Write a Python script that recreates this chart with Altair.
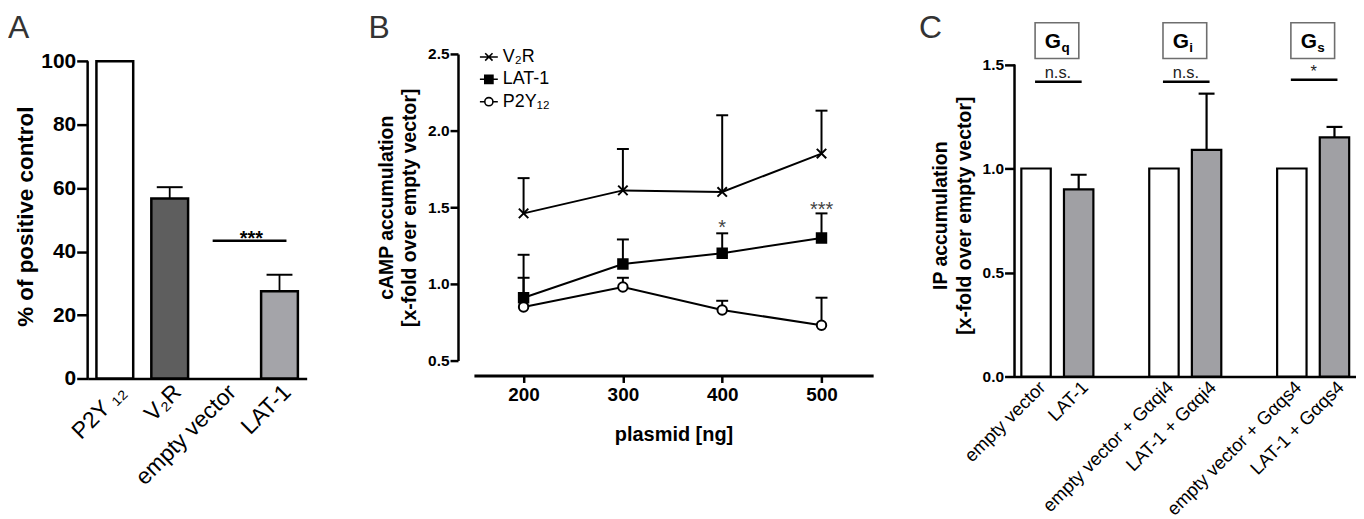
import altair as alt
import pandas as pd

FONT = "Liberation Sans"

# ---------------- Panel A data ----------------
a_cats = ["P2Y ₁₂", "V₂R", "empty vector", "LAT-1"]
a_vals = [100.0, 56.7, 0.0, 27.5]
a_errs = [None, 60.3, None, 32.7]
a_fill = ["#ffffff", "#5e5e5e", "#ffffff", "#a4a4a9"]
a_sig_from = ["empty vector"]
a_sig_to = ["LAT-1"]
a_sig_y = [43.4]
a_sig_text = ["***"]
a_axis_span = [0, 100]

# ---------------- Panel B data ----------------
b_plasmid = [200, 300, 400, 500]
b_series = ["V₂R", "LAT-1", "P2Y₁₂"]
b_v2r = [1.46, 1.61, 1.60, 1.85]
b_v2r_err = [1.69, 1.88, 2.10, 2.13]
b_lat = [0.91, 1.13, 1.20, 1.30]
b_lat_err = [1.19, 1.29, 1.33, 1.46]
b_p2y = [0.85, 0.98, 0.83, 0.73]
b_p2y_err = [1.04, 1.04, 0.89, 0.91]
b_star_x = [400, 500]
b_star_y = [1.325, 1.44]
b_star_text = ["*", "***"]

# ---------------- Panel C data ----------------
c_domain = ["empty vector", "LAT-1", " ",
            "empty vector + Gαqi4", "LAT-1 + Gαqi4", "  ",
            "empty vector + Gαqs4", "LAT-1 + Gαqs4"]
c_cats = ["empty vector", "LAT-1", "empty vector + Gαqi4", "LAT-1 + Gαqi4",
          "empty vector + Gαqs4", "LAT-1 + Gαqs4"]
c_vals = [1.0, 0.90, 1.0, 1.09, 1.0, 1.15]
c_errs = [None, 0.97, None, 1.36, None, 1.20]
c_fill = ["#ffffff", "#a0a0a4", "#ffffff", "#a0a0a4", "#ffffff", "#a0a0a4"]
c_sig_from = ["empty vector", "empty vector + Gαqi4", "empty vector + Gαqs4"]
c_sig_to = ["LAT-1", "LAT-1 + Gαqi4", "LAT-1 + Gαqs4"]
c_sig_y = [1.417, 1.417, 1.427]
c_sig_text = ["n.s.", "n.s.", "*"]
c_sig_text_y = [1.437, 1.437, 1.44]
c_box_sub = ["q", "i", "s"]
c_box_y = [1.615, 1.615, 1.615]
c_box_text_y = [1.581, 1.581, 1.581]
c_axis_span = [0, 1.5]


def letter(t, x, y):
    return alt.Chart(pd.DataFrame({"t": [t]})).mark_text(
        fontSize=32, font=FONT, color="#333333", align="left", baseline="alphabetic"
    ).encode(text="t:N", x=alt.value(x), y=alt.value(y))


def yline(span):
    return alt.Chart(pd.DataFrame({"a": [span[0]], "b": [span[1]]})).mark_rule(
        color="black", strokeWidth=2.5).encode(x=alt.value(0), y="a:Q", y2="b:Q")


# ================= Panel A =================
dfA = pd.DataFrame({"cat": a_cats, "val": a_vals, "err": a_errs, "fill": a_fill})
xA = alt.X("cat:N", scale=alt.Scale(domain=a_cats, paddingInner=0.33, paddingOuter=0.16),
           axis=alt.Axis(title=None, labelAngle=-45, labelAlign="right", labelBaseline="top",
                         ticks=False, labelFontSize=23, labelFontWeight="normal", labelLimit=0,
                         labelPadding=2, domainWidth=2.5, labelOverlap=False))
yA = alt.Y("val:Q", scale=alt.Scale(domain=[0, 102.3], nice=False),
           axis=alt.Axis(title="% of positive control", values=[0, 20, 40, 60, 80, 100],
                         tickSize=11, tickWidth=2.5, domain=False, labelFontSize=21,
                         labelFontWeight="bold", labelPadding=1, titleFontSize=22.5,
                         titleFontWeight="bold", titlePadding=3))
barsA = alt.Chart(dfA).transform_filter("datum.val > 0").mark_bar(
    stroke="black", strokeWidth=2.5).encode(x=xA, y=yA, fill=alt.Fill("fill:N", scale=None))
errA = alt.Chart(dfA).transform_filter("isValid(datum.err)").mark_rule(
    color="black", strokeWidth=1.8).encode(x="cat:N", y="val:Q", y2="err:Q")
capA = alt.Chart(dfA).transform_filter("isValid(datum.err)").mark_tick(
    color="black", size=26, thickness=2, opacity=1).encode(x="cat:N", y="err:Q")
dfAs = pd.DataFrame({"x1": a_sig_from, "x2": a_sig_to, "y": a_sig_y, "t": a_sig_text})
sigA = alt.Chart(dfAs).mark_rule(color="black", strokeWidth=2.5, xOffset=-12, x2Offset=7).encode(
    x="x1:N", x2="x2:N", y="y:Q")
starA = alt.Chart(dfAs).mark_text(fontSize=20, fontWeight="bold", font=FONT, dx=27, dy=4,
                                  baseline="alphabetic", color="black").encode(
    x="x1:N", y="y:Q", text="t:N")
chartA = alt.layer(barsA, errA, capA, sigA, starA, yline(a_axis_span),
                   letter("A", -80, -16)).properties(width=220, height=326)

# ================= Panel B =================
rows = []
for s, v, e in [("V₂R", b_v2r, b_v2r_err), ("LAT-1", b_lat, b_lat_err), ("P2Y₁₂", b_p2y, b_p2y_err)]:
    for x, vv, ee in zip(b_plasmid, v, e):
        rows.append({"x": x, "series": s, "val": vv, "err": ee})
dfB = pd.DataFrame(rows)

xB = alt.X("x:Q", scale=alt.Scale(domain=[150, 552], nice=False, zero=False),
           axis=alt.Axis(values=b_plasmid, format="d", offset=15, tickSize=7, tickWidth=2.5,
                         domainWidth=3, labelFontSize=19, labelFontWeight="bold", labelPadding=3,
                         title="plasmid [ng]", titleFontSize=20, titleFontWeight="bold",
                         titlePadding=20))
yB = alt.Y("val:Q", scale=alt.Scale(domain=[0.5, 2.5], nice=False, zero=False),
           axis=alt.Axis(values=[0.5, 1.0, 1.5, 2.0, 2.5], format=".1f", offset=16, tickSize=8,
                         tickWidth=2.5, domainWidth=2.5, labelFontSize=15.5,
                         labelFontWeight="bold", labelPadding=1,
                         title=["cAMP accumulation", "[x-fold over empty vector]"],
                         titleFontSize=19.5, titleFontWeight="bold", titlePadding=8,
                         titleLineHeight=23))

XPATH = "M-1,-1L1,1M-1,1L1,-1"
LX = "M-2.2,0L2.2,0M-0.9,-0.9L0.9,0.9M-0.9,0.9L0.9,-0.9"
LSQ = "M-2.2,0L2.2,0M-1,-1L1,-1L1,1L-1,1Z"
LC = "M-2.2,0L-1,0M1,0L2.2,0M1,0A1,1,0,1,1,-1,0A1,1,0,1,1,1,0Z"
fills = ["black", "black", "white"]

lineB = alt.Chart(dfB).mark_line(color="black", strokeWidth=2).encode(
    x=xB, y=yB, detail="series:N")
errB = alt.Chart(dfB).mark_rule(color="black", strokeWidth=2).encode(
    x="x:Q", y="val:Q", y2="err:Q")
capB = alt.Chart(dfB).mark_tick(orient="horizontal", color="black", size=12, thickness=2,
                                opacity=1).encode(x="x:Q", y="err:Q")
ptsB = alt.Chart(dfB).mark_point(stroke="black", strokeWidth=2, opacity=1, fillOpacity=1,
                                 size=90).encode(
    x="x:Q", y="val:Q",
    shape=alt.Shape("series:N", scale=alt.Scale(domain=b_series, range=[XPATH, "square", "circle"]),
                    legend=None),
    fill=alt.Fill("series:N", scale=alt.Scale(domain=b_series, range=fills), legend=None))
leg = alt.Legend(title=None, orient="none", legendX=6, legendY=-6, labelFontSize=18,
                 labelFont=FONT, labelColor="black", symbolSize=67, symbolStrokeWidth=1.6,
                 symbolStrokeColor="black", rowPadding=4.5, labelOffset=5, padding=0)
legB = alt.Chart(dfB).mark_point(clip=True, strokeWidth=1.6, opacity=1, fillOpacity=1,
                                 size=67).encode(
    x="x:Q", y=alt.value(-3000),
    shape=alt.Shape("series:N", scale=alt.Scale(domain=b_series, range=[LX, LSQ, LC]), legend=leg),
    fill=alt.Fill("series:N", scale=alt.Scale(domain=b_series, range=fills), legend=leg),
    stroke=alt.Stroke("series:N", scale=alt.Scale(domain=b_series, range=["black"] * 3),
                      legend=leg))
dfBs = pd.DataFrame({"x": b_star_x, "y": b_star_y, "t": b_star_text})
starB = alt.Chart(dfBs).mark_text(fontSize=20, font=FONT, color="#444444",
                                  baseline="alphabetic").encode(x="x:Q", y="y:Q", text="t:N")
chartB = alt.layer(lineB, errB, capB, ptsB, legB, starB, letter("B", -106, -16)).resolve_scale(
    shape="independent", fill="independent", stroke="independent").properties(
    width=401, height=308)

# ================= Panel C =================
dfC = pd.DataFrame({"cat": c_cats, "val": c_vals, "err": c_errs, "fill": c_fill})
xC = alt.X("cat:N", scale=alt.Scale(domain=c_domain, paddingInner=0.31, paddingOuter=0.16),
           axis=alt.Axis(title=None, labelAngle=-45, labelAlign="right", labelBaseline="top",
                         ticks=False, labelFontSize=18.5, labelFontWeight="normal", labelPadding=1,
                         labelLimit=0, domainWidth=2.5, labelOverlap=False))
yC = alt.Y("val:Q", scale=alt.Scale(domain=[0, 1.551], nice=False),
           axis=alt.Axis(values=[0, 0.5, 1.0, 1.5], format=".1f", tickSize=10, tickWidth=2.5,
                         domain=False, labelFontSize=15.5, labelFontWeight="bold", labelPadding=1,
                         title=["IP accumulation", "[x-fold over empty vector]"], titleFontSize=19.5,
                         titleFontWeight="bold", titlePadding=8, titleLineHeight=24))
barsC = alt.Chart(dfC).mark_bar(stroke="black", strokeWidth=2.2).encode(
    x=xC, y=yC, fill=alt.Fill("fill:N", scale=None))
errC = alt.Chart(dfC).transform_filter("isValid(datum.err)").mark_rule(
    color="black", strokeWidth=2.2).encode(x="cat:N", y="val:Q", y2="err:Q")
capC = alt.Chart(dfC).transform_filter("isValid(datum.err)").mark_tick(
    color="black", size=16, thickness=2.2, opacity=1).encode(x="cat:N", y="err:Q")
dfCs = pd.DataFrame({"x1": c_sig_from, "x2": c_sig_to, "y": c_sig_y, "t": c_sig_text,
                     "ty": c_sig_text_y, "sub": c_box_sub, "by": c_box_y, "gy": c_box_text_y})
sigC = alt.Chart(dfCs).mark_rule(color="black", strokeWidth=2.5, xOffset=-1, x2Offset=3).encode(
    x="x1:N", x2="x2:N", y="y:Q")
sigTC = alt.Chart(dfCs).mark_text(fontSize=16.5, font=FONT, color="#222222", dx=22,
                                  baseline="alphabetic").encode(x="x1:N", y="ty:Q", text="t:N")
BOX = "M-1.22,-1L1.22,-1L1.22,1L-1.22,1Z"
boxC = alt.Chart(dfCs).mark_point(shape=BOX, size=1296, stroke="#6e6e6e", strokeWidth=1.6,
                                  fill="white", fillOpacity=1, opacity=1, xOffset=21).encode(
    x="x1:N", y="by:Q")
gC = alt.Chart(dfCs).transform_calculate(g="'G'").mark_text(
    fontSize=21, fontWeight="bold", font=FONT, color="black", dx=17, baseline="alphabetic").encode(
    x="x1:N", y="gy:Q", text="g:N")
subC = alt.Chart(dfCs).mark_text(fontSize=13.5, fontWeight="bold", font=FONT, color="black",
                                 align="left", dx=25.5, dy=4, baseline="alphabetic").encode(
    x="x1:N", y="gy:Q", text="sub:N")
chartC = alt.layer(barsC, errC, capC, sigC, sigTC, boxC, gC, subC, yline(c_axis_span),
                   letter("C", -96, -16)).properties(width=343, height=324)

chart = alt.hconcat(
    chartA,
    alt.hconcat(chartB, chartC, spacing=46),
    spacing=62,
).properties(padding={"top": 3, "left": 0, "right": 0, "bottom": 0}).configure_view(
    stroke=None).configure_axis(
    grid=False, labelFont=FONT, titleFont=FONT, domainColor="black", tickColor="black",
    labelColor="black", titleColor="black")

chart.save("out.html", embed_options={"renderer": "svg", "actions": False})
